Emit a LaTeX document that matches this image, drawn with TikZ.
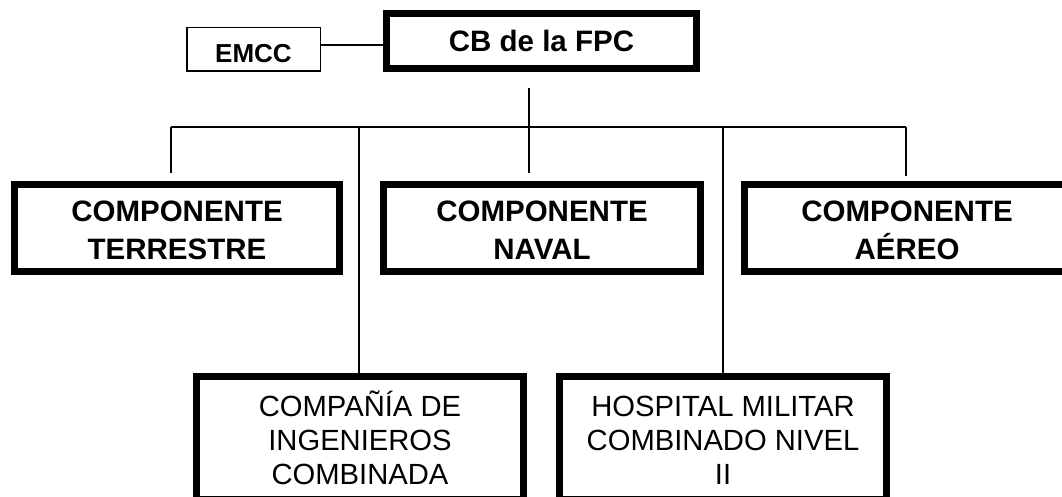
\documentclass[tikz,border=0pt]{standalone}
\usepackage{fontspec}
\setmainfont{Liberation Sans}
\begin{document}
\begin{tikzpicture}[x=1pt,y=-1pt,
  thickbox/.style={draw=black, line width=7pt, inner sep=0pt, align=center,
    minimum width=#1},
  boldtext/.style={font=\fontsize{29.5}{38}\selectfont\bfseries, text height=62pt, text depth=0pt},
  plaintext/.style={font=\fontsize{29.2}{34}\selectfont, text height=92.5pt, text depth=0pt},
  conn/.style={draw=black, line width=1.6pt}]
\useasboundingbox (0,0) rectangle (1062,497);
\clip (0,0) rectangle (1062,497);
\fill[white] (0,0) rectangle (1062,497);
% top row
\node[draw=black, line width=1.5pt, inner sep=0pt, minimum width=133.5pt, minimum height=43.5pt,
  font=\fontsize{26}{30}\selectfont\bfseries, text height=27pt, text depth=0pt] (EMCC) at (253.5,49.5) {EMCC};
\node[thickbox=310pt, minimum height=55pt, font=\fontsize{29.5}{36}\selectfont\bfseries,
  text height=21pt, text depth=0pt] (CB) at (541.5,41) {CB de la FPC};
% middle row
\node[thickbox=325pt, minimum height=87pt, boldtext] (TER) at (177,228) {COMPONENTE\\TERRESTRE};
\node[thickbox=317pt, minimum height=87pt, boldtext] (NAV) at (542,228) {COMPONENTE\\NAVAL};
\node[thickbox=325pt, minimum height=87pt, boldtext] (AER) at (907,228) {COMPONENTE\\AÉREO};
% bottom row
\node[thickbox=327pt, minimum height=122.5pt, plaintext] (ING) at (360,437.75) {COMPAÑÍA DE\\INGENIEROS\\COMBINADA};
\node[thickbox=327pt, minimum height=122.5pt, plaintext] (HOS) at (723,437.75) {HOSPITAL MILITAR\\COMBINADO NIVEL\\II};
% bus coordinates
\coordinate (b1) at (171,127);
\coordinate (b2) at (359,127);
\coordinate (b3) at (529,127);
\coordinate (b4) at (723,127);
\coordinate (b5) at (906,127);
% connectors
\draw[conn] ([yshift=4.5pt]EMCC.east) coordinate (e1) -- (e1 -| CB.west);
\draw[conn, shorten >=16pt] (b3) -- (b3 |- CB.south);
\draw[conn] (b1) -- (b5);
\draw[conn, shorten >=8pt] (b1) -- (b1 |- TER.north);
\draw[conn, shorten >=8pt] (b3) -- (b3 |- NAV.north);
\draw[conn, shorten >=5pt] (b5) -- (b5 |- AER.north);
\draw[conn] (b2) -- (b2 |- ING.north);
\draw[conn] (b4) -- (b4 |- HOS.north);
\end{tikzpicture}
\end{document}
